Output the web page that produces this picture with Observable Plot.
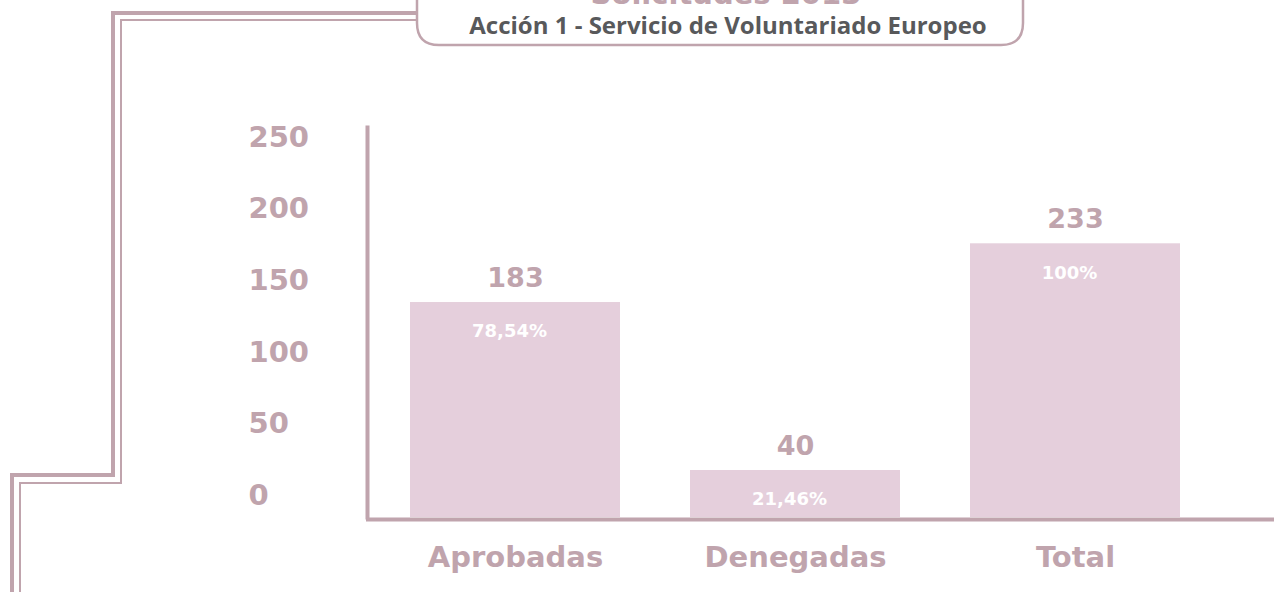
<!DOCTYPE html>
<html>
<head>
<meta charset="utf-8">
<script src="https://cdn.jsdelivr.net/npm/d3@7"></script>
<script src="https://cdn.jsdelivr.net/npm/@observablehq/plot@0.6"></script>
<style>
  html, body { margin: 0; padding: 0; background: #fff; }
  #wrap { position: relative; width: 1274px; height: 592px; overflow: hidden; }
  #wrap > * { position: absolute; left: 0; top: 0; }
</style>
</head>
<body>
<div id="wrap"></div>
<script>
// ---- data ----
const categories = ["Aprobadas", "Denegadas", "Total"];
const values = [183, 40, 233];
const percents = ["78,54%", "21,46%", "100%"];
const yTicks = [0, 50, 100, 150, 200, 250];
const title = "Solicitudes 2013";
const subtitle = "Acción 1 - Servicio de Voluntariado Europeo";

const data = categories.map((c, i) => ({cat: c, value: values[i], pct: percents[i]}));

const accent = "#c0a4ad";
const barFill = "#e5cfdc";
const numFont = "DejaVu Sans";

const wrap = document.getElementById("wrap");

// ---- main chart ----
const chart = Plot.plot({
  width: 1274,
  height: 592,
  marginLeft: 366,
  marginRight: 0,
  marginTop: 127,
  marginBottom: 75,
  style: {background: "transparent", fontFamily: numFont},
  x: {domain: categories, range: [374, 1216], paddingInner: 0.25, paddingOuter: 0.125},
  y: {domain: [0, 332]},
  marks: [
    Plot.barY(data, {x: "cat", y: "value", fill: barFill}),
    Plot.ruleY([0], {stroke: accent, strokeWidth: 4, dy: 2}),
    Plot.frame({anchor: "left", stroke: accent, strokeWidth: 4, dx: 1}),
    Plot.text(data, {x: "cat", y: "value", text: d => String(d.value), dy: -24,
      fontSize: 27, fontWeight: 700, fill: accent}),
    Plot.text(data, {x: "cat", y: "value", text: "pct", dy: 29, dx: -6,
      fontSize: 18, fontWeight: 700, fill: "#ffffff"}),
    Plot.axisX({tickSize: 0, tickPadding: 29, fontSize: 29, fontWeight: 700,
      fill: accent, label: null}),
    Plot.axisY({ticks: [], label: null})
  ]
});
wrap.appendChild(chart);

// ---- y tick labels (own scale, as in the original) ----
const axis = Plot.plot({
  width: 1274,
  height: 592,
  marginLeft: 248,
  marginRight: 0,
  style: {background: "transparent", fontFamily: numFont},
  y: {domain: [0, 250], range: [495, 137]},
  marks: [
    Plot.axisY(yTicks, {anchor: "left", tickSize: 0, tickPadding: 0, textAnchor: "start",
      fontSize: 29, fontWeight: 700, fill: accent, label: null})
  ]
});
wrap.appendChild(axis);

// ---- decoration: frame lines and title box ----
const ns = "http://www.w3.org/2000/svg";
const deco = document.createElementNS(ns, "svg");
deco.setAttribute("width", 1274);
deco.setAttribute("height", 592);
deco.innerHTML = `
  <path d="M417,13 H113 V475 H12 V600" fill="none" stroke="${accent}" stroke-width="4"/>
  <path d="M417,20 H121 V483 H20 V600" fill="none" stroke="${accent}" stroke-width="2"/>
  <path d="M417,-10 V23 Q417,45 439,45 H1001 Q1023,45 1023,23 V-10" fill="#fff" stroke="${accent}" stroke-width="2.5"/>
  <text x="726" y="4" text-anchor="middle" font-family="${numFont}" font-weight="700" font-size="29" fill="${accent}">${title}</text>
  <text x="728" y="34" text-anchor="middle" font-family="Open Sans" font-weight="700" font-size="24" fill="#58595b">${subtitle}</text>
`;
wrap.appendChild(deco);
</script>
</body>
</html>
